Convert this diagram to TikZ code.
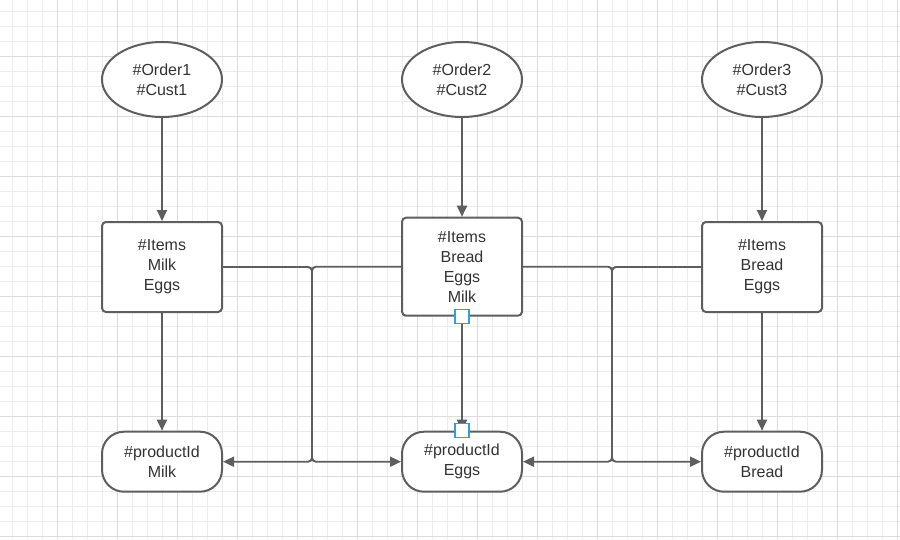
\documentclass[tikz,border=0pt]{standalone}
\usepackage{fontspec}
\setmainfont{Liberation Sans}
\usetikzlibrary{arrows.meta,shapes.geometric}
\definecolor{linegray}{HTML}{5E5E5E}
\definecolor{textgray}{HTML}{333333}
\definecolor{gridminor}{HTML}{ECECEC}
\definecolor{gridmajor}{HTML}{DCDCDC}
\definecolor{selblue}{HTML}{2AA3DA}
\tikzset{
  txt/.style={font=\fontsize{16}{20}\selectfont, text=textgray, align=center},
  ordernode/.style={txt, ellipse, draw=linegray, line width=2pt, fill=white, minimum width=120pt, minimum height=75pt, inner sep=0pt},
  itemsnode/.style={txt, rectangle, rounded corners=4pt, draw=linegray, line width=2pt, fill=white, minimum width=120pt, inner sep=0pt},
  prodnode/.style={txt, rectangle, rounded corners=22pt, draw=linegray, line width=2pt, fill=white, minimum width=120pt, minimum height=60pt, inner sep=0pt},
  conn/.style={draw=linegray, line width=1.9pt, -{Triangle[length=11pt,width=10pt]}},
  handle/.style={rectangle, draw=selblue, line width=1.5pt, fill=white, minimum size=14pt, inner sep=0pt}
}
\begin{document}
\begin{tikzpicture}[x=1pt,y=-1pt]
\useasboundingbox (0,0) rectangle (900,539);
\fill[white] (0,0) rectangle (900,539);
% grid
\foreach \gx in {12.3,27.3,...,900} \draw[gridminor, line width=0.8pt] (\gx,0) -- (\gx,539);
\foreach \gy in {11.7,26.7,...,539} \draw[gridminor, line width=0.8pt] (0,\gy) -- (900,\gy);
\foreach \gx in {57.3,117.3,...,900} \draw[gridmajor, line width=0.9pt] (\gx,0) -- (\gx,539);
\foreach \gy in {56.7,116.7,...,539} \draw[gridmajor, line width=0.9pt] (0,\gy) -- (900,\gy);

% nodes
\node[ordernode] (o1) at (162,79.5) {\#Order1\\\#Cust1};
\node[ordernode] (o2) at (462,79.5) {\#Order2\\\#Cust2};
\node[ordernode] (o3) at (762,79.5) {\#Order3\\\#Cust3};

\node[itemsnode, minimum height=90pt] (i1) at (162,267) {\#Items\\Milk\\Eggs};
\node[itemsnode, minimum height=98pt] (i2) at (462,266.7) {\#Items\\Bread\\Eggs\\Milk};
\node[itemsnode, minimum height=90pt] (i3) at (762,267) {\#Items\\Bread\\Eggs};

\node[prodnode] (p1) at (162,461.7) {\#productId\\Milk};
\node[prodnode] (p2) at (462,461.7) {\#productId\\Eggs};
\node[prodnode] (p3) at (762,461.7) {\#productId\\Bread};

\coordinate (jl) at (312,0);
\coordinate (jr) at (612,0);

% connectors
\draw[conn] (o1) -- (i1);
\draw[conn] (o2) -- (i2);
\draw[conn] (o3) -- (i3);
\draw[conn] (i1) -- (p1);
\draw[conn] (i2) -- (p2);
\draw[conn] (i3) -- (p3);

\draw[conn, rounded corners=4pt] (i1.east) -- (i1.east -| jl) -- (jl |- p2.west) -- (p2.west);
\draw[conn, rounded corners=4pt] (i2.west) -- (i2.west -| jl) -- (jl |- p1.east) -- (p1.east);
\draw[conn, rounded corners=4pt] (i2.east) -- (i2.east -| jr) -- (jr |- p3.west) -- (p3.west);
\draw[conn, rounded corners=4pt] (i3.west) -- (i3.west -| jr) -- (jr |- p2.east) -- (p2.east);

% selection handles
\node[handle] (h1) at (i2.south) {};
\node[handle] (h2) at (p2.north) {};
\end{tikzpicture}
\end{document}
